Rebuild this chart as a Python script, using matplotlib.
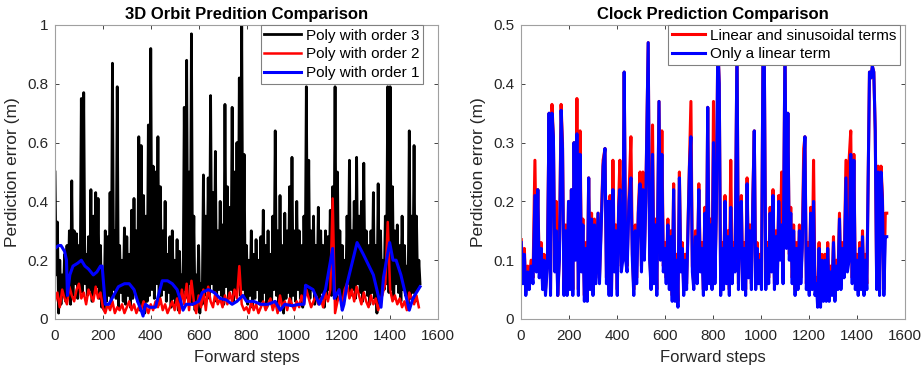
import numpy as np
import matplotlib.pyplot as plt

plt.rcParams['font.family'] = ['Liberation Sans', 'DejaVu Sans']

# ---- left panel: 3D orbit prediction error ----
# order 3 (black): spike tops every 10 steps, valleys in between (offset 5)
orb3_tops = [0.50, 0.33, 0.20, 0.15, 0.22, 0.25, 0.30, 0.47, 0.30, 0.29,
             0.25, 0.75, 0.77, 0.22, 0.28, 0.44, 0.35, 0.43, 0.41, 0.25,
             0.13, 0.30, 0.28, 0.43, 0.87, 0.30, 0.79, 0.25, 0.20, 0.31,
             0.28, 0.22, 0.37, 0.41, 0.30, 0.62, 0.59, 0.42, 0.35, 0.66,
             0.92, 0.52, 0.50, 0.62, 0.45, 0.30, 0.40, 0.22, 0.28, 0.30,
             0.20, 0.27, 0.23, 0.15, 0.72, 0.88, 0.50, 0.97, 0.35, 0.15,
             0.25, 0.12, 0.49, 0.35, 0.48, 0.76, 0.43, 0.57, 0.30, 0.40,
             0.32, 0.73, 0.45, 0.38, 0.72, 0.50, 0.60, 0.82, 1.00, 0.56,
             0.25, 0.20, 0.30, 0.22, 0.27, 0.20, 0.28, 0.37, 0.25, 0.30,
             0.22, 0.35, 0.64, 0.30, 0.42, 0.25, 0.36, 0.30, 0.45, 0.55,
             0.30, 0.40, 0.30, 0.25, 0.35, 0.79, 0.54, 0.30, 0.35, 0.25,
             0.38, 0.30, 0.25, 0.30, 0.28, 0.37, 0.45, 0.79, 0.50, 0.30,
             0.25, 0.20, 0.35, 0.54, 0.30, 0.40, 0.55, 0.35, 0.40, 0.53,
             0.30, 0.25, 0.30, 0.43, 0.25, 0.46, 0.30, 0.20, 0.35, 0.79,
             0.79, 0.45, 0.30, 0.32, 0.25, 0.35, 0.25, 0.18, 0.64, 0.35,
             0.59, 0.35, 0.20]
orb3_lows = [0.15, 0.02, 0.05, 0.08, 0.06, 0.10, 0.05, 0.08, 0.12, 0.07,
             0.10, 0.09, 0.12, 0.08, 0.10, 0.06, 0.09, 0.11, 0.07, 0.04,
             0.03, 0.06, 0.08, 0.05, 0.10, 0.07, 0.04, 0.09, 0.06, 0.05,
             0.08, 0.04, 0.07, 0.10, 0.06, 0.03, 0.05, 0.02, 0.06, 0.08,
             0.10, 0.07, 0.12, 0.05, 0.08, 0.10, 0.06, 0.09, 0.04, 0.07,
             0.05, 0.03, 0.06, 0.08, 0.10, 0.07, 0.12, 0.05, 0.03, 0.06,
             0.02, 0.05, 0.08, 0.10, 0.07, 0.12, 0.09, 0.06, 0.10, 0.08,
             0.05, 0.11, 0.07, 0.10, 0.06, 0.09, 0.12, 0.08, 0.10, 0.07,
             0.05, 0.08, 0.04, 0.07, 0.10, 0.05, 0.06, 0.09, 0.04, 0.07,
             0.05, 0.10, 0.08, 0.03, 0.06, 0.02, 0.07, 0.09, 0.05, 0.08,
             0.06, 0.10, 0.07, 0.04, 0.12, 0.09, 0.07, 0.10, 0.05, 0.08,
             0.06, 0.09, 0.04, 0.07, 0.10, 0.08, 0.12, 0.06, 0.09, 0.07,
             0.05, 0.10, 0.12, 0.08, 0.10, 0.07, 0.12, 0.09, 0.06, 0.10,
             0.08, 0.05, 0.09, 0.07, 0.02, 0.05, 0.08, 0.10, 0.12, 0.09,
             0.10, 0.07, 0.12, 0.09, 0.06, 0.10, 0.08, 0.05, 0.07, 0.09,
             0.06, 0.10, 0.12]
# order 2 (red), every 10 steps
orb2 = [0.06, 0.09, 0.04, 0.10, 0.07, 0.05, 0.11, 0.08, 0.06, 0.10,
        0.12, 0.07, 0.09, 0.05, 0.10, 0.08, 0.06, 0.11, 0.07, 0.09,
        0.04, 0.02, 0.05, 0.03, 0.06, 0.02, 0.04, 0.03, 0.05, 0.02,
        0.04, 0.06, 0.03, 0.05, 0.02, 0.04, 0.03, 0.06, 0.04, 0.02,
        0.05, 0.03, 0.06, 0.04, 0.07, 0.03, 0.05, 0.02, 0.04, 0.06,
        0.03, 0.07, 0.02, 0.10, 0.05, 0.12, 0.03, 0.13, 0.06, 0.02,
        0.08, 0.04, 0.10, 0.03, 0.11, 0.06, 0.04, 0.09, 0.05, 0.07,
        0.04, 0.08, 0.05, 0.09, 0.06, 0.10, 0.07, 0.18, 0.05, 0.03,
        0.04, 0.02, 0.06, 0.03, 0.05, 0.02, 0.04, 0.06, 0.03, 0.05,
        0.07, 0.03, 0.06, 0.02, 0.08, 0.04, 0.06, 0.03, 0.07, 0.05,
        0.03, 0.06, 0.04, 0.08, 0.05, 0.10, 0.07, 0.04, 0.06, 0.08,
        0.05, 0.07, 0.04, 0.09, 0.06, 0.10, 0.41, 0.02, 0.06, 0.08,
        0.05, 0.10, 0.12, 0.07, 0.10, 0.06, 0.11, 0.08, 0.05, 0.09,
        0.06, 0.04, 0.08, 0.05, 0.07, 0.03, 0.06, 0.09, 0.12, 0.33,
        0.10, 0.06, 0.08, 0.05, 0.07, 0.04, 0.06, 0.03, 0.09, 0.07,
        0.05, 0.08, 0.04]
# order 1 (blue), smooth curve
orb1_steps = [0, 15, 25, 40, 48, 52, 62, 75, 95, 110, 125, 140, 160, 175,
              190, 197, 210, 225, 245, 265, 290, 310, 330, 345, 360, 368,
              378, 395, 420, 432, 448, 470, 490, 510, 522, 535, 548, 575,
              600, 615, 640, 665, 690, 715, 740, 760, 785, 800, 830, 860,
              890, 920, 941, 960, 990, 1020, 1040, 1047, 1078, 1104, 1130,
              1160, 1167, 1187, 1200, 1207, 1220, 1262, 1288, 1330, 1362,
              1372, 1398, 1412, 1425, 1445, 1480, 1495, 1525]
orb1 = [0.24, 0.25, 0.25, 0.23, 0.20, 0.08, 0.15, 0.18, 0.19, 0.20, 0.18,
        0.17, 0.15, 0.16, 0.18, 0.18, 0.05, 0.05, 0.08, 0.11, 0.12, 0.12,
        0.10, 0.06, 0.03, 0.01, 0.05, 0.04, 0.04, 0.08, 0.13, 0.13, 0.12,
        0.10, 0.07, 0.03, 0.05, 0.05, 0.06, 0.09, 0.10, 0.09, 0.07, 0.065,
        0.05, 0.06, 0.08, 0.06, 0.06, 0.05, 0.05, 0.06, 0.03, 0.05, 0.045,
        0.05, 0.05, 0.115, 0.10, 0.05, 0.10, 0.24, 0.07, 0.10, 0.03, 0.05,
        0.12, 0.26, 0.22, 0.15, 0.04, 0.14, 0.26, 0.20, 0.20, 0.15, 0.03,
        0.07, 0.11]

# ---- right panel: clock prediction error ----
clk_steps = [1, 8, 14, 20, 28, 34, 42, 50, 58, 64,
             70, 76, 84, 90, 96, 102, 110, 117, 123, 129,
             135, 141, 147, 153, 160, 167, 173, 179, 186, 192,
             198, 204, 210, 216, 221, 227, 233, 239, 246, 252,
             258, 264, 270, 276, 282, 288, 294, 300, 306, 312,
             321, 327, 333, 342, 350, 356, 362, 367, 371, 377,
             383, 389, 395, 401, 407, 412, 418, 424, 430, 436,
             442, 450, 458, 464, 470, 476, 482, 489, 496, 502,
             508, 514, 520, 530, 536, 542, 548, 554, 560, 566,
             575, 581, 587, 593, 599, 605, 612, 618, 624, 630,
             636, 642, 648, 654, 660, 666, 672, 678, 684, 690,
             697, 702, 708, 714, 720, 727, 734, 741, 747, 754,
             760, 766, 772, 778, 784, 790, 796, 802, 808, 814,
             820, 826, 832, 838, 844, 850, 856, 862, 868, 874,
             880, 886, 892, 900, 906, 912, 918, 924, 930, 936,
             942, 948, 954, 960, 966, 972, 978, 984, 990, 996,
             1002, 1008, 1014, 1020, 1026, 1032, 1038, 1044, 1050, 1056,
             1062, 1068, 1074, 1080, 1086, 1092, 1100, 1106, 1112, 1118,
             1124, 1130, 1136, 1142, 1148, 1154, 1160, 1166, 1172, 1178,
             1183, 1189, 1195, 1201, 1207, 1213, 1219, 1225, 1231, 1236,
             1242, 1248, 1254, 1260, 1266, 1272, 1278, 1284, 1290, 1296,
             1302, 1308, 1314, 1320, 1327, 1333, 1340, 1346, 1354, 1360,
             1367, 1374, 1380, 1387, 1393, 1399, 1405, 1411, 1417, 1423,
             1429, 1435, 1441, 1447, 1452, 1458, 1464, 1470, 1476, 1482,
             1488, 1494, 1500, 1506, 1512, 1518, 1524]
clk_linear = [.13, .06, .11, .04, .08, .05, .09, .06, .21, .08,
              .22, .07, .12, .05, .10, .04, .09, .35, .04, .35,
              .31, .08, .15, .04, .10, .355, .29, .04, .15, .04,
              .20, .05, .22, .04, .30, .10, .315, .04, .28, .08,
              .16, .03, .12, .03, .24, .05, .17, .04, .16, .06,
              .18, .06, .14, .26, .29, .06, .20, .04, .20, .04,
              .22, .08, .15, .04, .19, .22, .08, .10, .42, .10,
              .08, .20, .24, .10, .04, .15, .06, .18, .23, .08,
              .22, .10, .20, .47, .10, .05, .28, .06, .16, .04,
              .37, .10, .28, .08, .12, .06, .16, .05, .14, .03,
              .22, .03, .10, .02, .24, .08, .12, .04, .10, .05,
              .17, .26, .31, .08, .05, .14, .06, .22, .08, .12,
              .04, .18, .05, .36, .06, .16, .05, .30, .06, .18,
              .47, .40, .04, .12, .05, .20, .06, .14, .04, .19,
              .06, .12, .08, .47, .05, .15, .20, .05, .12, .04,
              .23, .07, .15, .05, .20, .32, .05, .12, .06, .10,
              .05, .44, .43, .05, .12, .06, .18, .08, .21, .05,
              .14, .06, .20, .10, .16, .06, .47, .12, .35, .10,
              .18, .06, .15, .04, .12, .05, .15, .06, .12, .25,
              .31, .05, .12, .04, .18, .05, .20, .04, .06, .02,
              .12, .02, .10, .03, .10, .03, .12, .03, .08, .04,
              .13, .03, .09, .05, .17, .05, .12, .07, .24, .08,
              .10, .28, .06, .27, .05, .10, .04, .12, .05, .14,
              .04, .10, .05, .26, .42, .41, .43, .42, .32, .05,
              .25, .04, .25, .20, .04, .14, .14]
clk_linear_sin = [.135, .07, .12, .05, .09, .06, .10, .07, .27, .09,
                  .22, .08, .13, .06, .11, .05, .10, .35, .05, .365,
                  .31, .09, .20, .04, .11, .365, .30, .05, .16, .05,
                  .20, .06, .22, .05, .30, .11, .375, .05, .32, .09,
                  .17, .04, .13, .04, .24, .06, .18, .05, .17, .07,
                  .18, .07, .15, .27, .29, .07, .20, .05, .21, .05,
                  .27, .09, .16, .05, .20, .27, .09, .11, .42, .11,
                  .09, .21, .31, .11, .05, .16, .07, .19, .25, .09,
                  .25, .11, .21, .47, .11, .06, .33, .07, .17, .05,
                  .37, .11, .32, .09, .13, .07, .17, .06, .15, .04,
                  .23, .04, .11, .03, .25, .09, .13, .05, .11, .06,
                  .18, .27, .37, .09, .06, .15, .07, .23, .09, .13,
                  .05, .19, .06, .36, .07, .17, .06, .37, .07, .19,
                  .47, .40, .05, .13, .06, .21, .07, .15, .05, .27,
                  .07, .13, .09, .47, .06, .16, .21, .06, .13, .05,
                  .24, .08, .16, .06, .21, .32, .06, .13, .07, .11,
                  .06, .44, .43, .06, .13, .07, .19, .09, .22, .06,
                  .15, .07, .21, .11, .25, .07, .47, .13, .35, .11,
                  .19, .07, .16, .05, .13, .06, .16, .07, .13, .29,
                  .31, .06, .13, .05, .19, .06, .27, .05, .07, .03,
                  .13, .03, .11, .04, .11, .04, .13, .04, .09, .05,
                  .14, .04, .10, .06, .18, .06, .13, .08, .27, .09,
                  .27, .32, .07, .28, .06, .11, .05, .13, .06, .15,
                  .05, .11, .06, .26, .42, .41, .43, .42, .32, .06,
                  .26, .05, .26, .21, .05, .18, .18]

gray = '#262626'

# black zigzag: tops at 0,10,20..., lows at 5,15,25...
n = len(orb3_tops)
orb3_x = np.empty(2 * n)
orb3_y = np.empty(2 * n)
orb3_x[0::2] = np.arange(n) * 10
orb3_x[1::2] = np.arange(n) * 10 + 5
orb3_y[0::2] = orb3_tops
orb3_y[1::2] = orb3_lows
orb2_x = np.arange(len(orb2)) * 10

fig = plt.figure(figsize=(9.23, 3.72), dpi=100)
ax1 = fig.add_axes([55/923, 53/372, 383/923, 294/372])
ax2 = fig.add_axes([521/923, 53/372, 384/923, 294/372])

ax1.plot(orb3_x, orb3_y, color='black', lw=2.0, label='Poly with order 3')
ax1.plot(orb2_x, orb2, color='red', lw=1.8, label='Poly with order 2')
ax1.plot(orb1_steps, orb1, color='blue', lw=2.2, label='Poly with order 1')
ax1.set_ylim(0, 1)
ax1.set_yticks([0, 0.2, 0.4, 0.6, 0.8, 1])
ax1.set_yticklabels(['0', '0.2', '0.4', '0.6', '0.8', '1'])
ax1.set_title('3D Orbit Predition Comparison', fontsize=12, fontweight='bold', pad=4)

ax2.plot(clk_steps, clk_linear_sin, color='red', lw=2.2, label='Linear and sinusoidal terms')
ax2.plot(clk_steps, clk_linear, color='blue', lw=2.2, label='Only a linear term')
ax2.set_ylim(0, 0.5)
ax2.set_yticks([0, 0.1, 0.2, 0.3, 0.4, 0.5])
ax2.set_yticklabels(['0', '0.1', '0.2', '0.3', '0.4', '0.5'])
ax2.set_title('Clock Prediction Comparison', fontsize=12, fontweight='bold', pad=4)

legend_pos = {ax1: (423/923, 2.4), ax2: (900/923, 2.2)}
for ax in (ax1, ax2):
    ax.set_xlim(0, 1600)
    ax.set_xticks(range(0, 1601, 200))
    ax.set_xlabel('Forward steps', fontsize=12, color=gray, labelpad=5)
    ax.set_ylabel('Perdiction error (m)', fontsize=12.5, color=gray, labelpad=5)
    ax.tick_params(direction='in', length=3, width=0.6, top=True, right=True,
                   labelsize=11, colors=gray, pad=7)
    ax.tick_params(axis='y', pad=5)
    for s in ax.spines.values():
        s.set_color('#a0a0a0')
        s.set_linewidth(0.8)
    xr, hl = legend_pos[ax]
    leg = ax.legend(loc='upper right', fontsize=11, frameon=True, fancybox=False,
                    framealpha=1, edgecolor='#808080', borderpad=0.25,
                    labelspacing=0.3, handlelength=hl, handletextpad=0.3,
                    borderaxespad=0.0)
    leg.set_bbox_to_anchor((xr, (372 - 25) / 372), transform=fig.transFigure)
    leg.get_frame().set_linewidth(0.8)

fig.savefig('out.png', dpi=100)
